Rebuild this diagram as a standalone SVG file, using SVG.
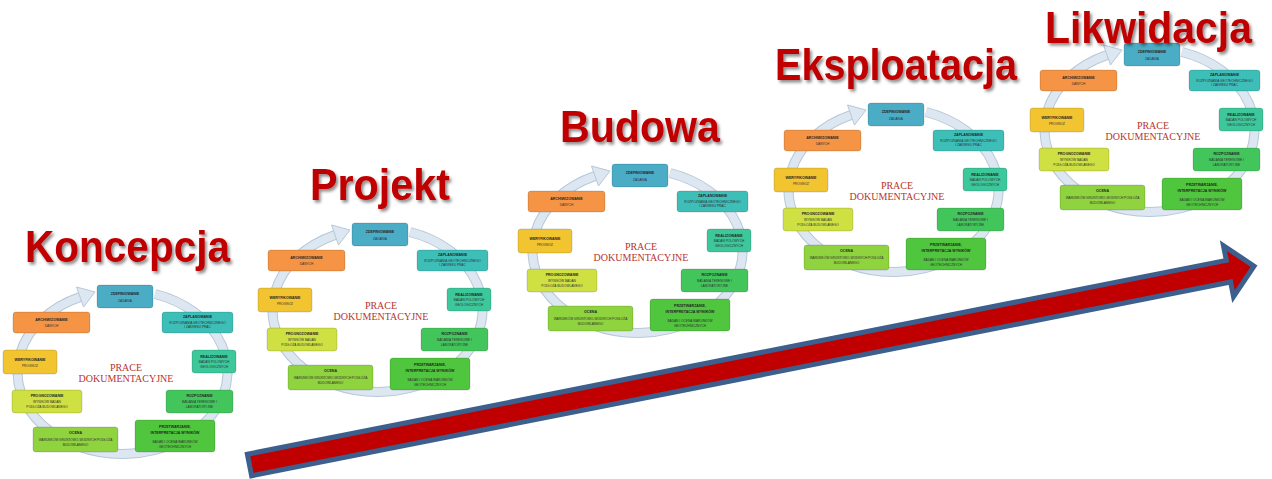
<svg xmlns="http://www.w3.org/2000/svg" xmlns:xlink="http://www.w3.org/1999/xlink" width="1272" height="479" viewBox="0 0 1272 479">
<style>
.title{font-family:"Liberation Sans",Arial,sans-serif;font-weight:bold;font-size:44px;fill:#c00000;filter:url(#shadow)}
.ring-o{fill:none;stroke:#b7c8d8;stroke-width:10}
.ring-i{fill:none;stroke:#dde7f1;stroke-width:8}
.head{fill:#dde7f1;stroke:#b7c8d8;stroke-width:1}
.box{stroke:#000;stroke-opacity:.18;stroke-width:.8}
.h{font-family:"Liberation Sans",Arial,sans-serif;font-weight:bold;font-size:3.6px;fill:#262626;text-anchor:middle}
.t{font-family:"Liberation Sans",Arial,sans-serif;font-size:3.2px;fill:#303030;text-anchor:middle}
.c{font-family:"Liberation Serif","Times New Roman",serif;font-size:10px;fill:#b8342f;text-anchor:middle}
.arrow{fill:#c00000;stroke:#3c5f8d;stroke-width:5;stroke-linejoin:miter}
</style>
<defs>
<filter id="shadow" x="-10%" y="-20%" width="130%" height="150%">
<feDropShadow dx="2" dy="2.5" stdDeviation="1.6" flood-color="#000" flood-opacity="0.45"/>
</filter>
<g id="cycle">
<path class="ring-o" d="M155,294 A105,82 0 1 1 80,297"/>
<path class="ring-i" d="M155,294 A105,82 0 1 1 80,297"/>
<polygon class="head" points="83.5,307 76.5,287 95,292"/>
<g id="step-1"><rect class="box" x="97" y="285" width="56" height="23" rx="3" fill="#4bacc6"/>
<text class="h" x="125" y="294.5">ZDEFINIOWANIE</text><text class="t" x="125" y="301.5">ZADANIA</text></g>
<g id="step-2"><rect class="box" x="162" y="312" width="71" height="21" rx="3" fill="#3dbfb8"/>
<text class="h" x="197.5" y="317.5">ZAPLANOWANIE</text><text class="t" x="197.5" y="323.5">ROZPOZNANIA GEOTECHNICZNEGO</text><text class="t" x="197.5" y="328">I ZAKRESU PRAC</text></g>
<g id="step-3"><rect class="box" x="192" y="350" width="44" height="23" rx="3" fill="#3cc89a"/>
<text class="h" x="214" y="357.5">REALIZOWANIE</text><text class="t" x="214" y="363">BADAŃ POLOWYCH</text><text class="t" x="214" y="367.5">GEOLOGICZNYCH</text></g>
<g id="step-4"><rect class="box" x="166" y="390" width="67" height="23" rx="3" fill="#42c65c"/>
<text class="h" x="199.5" y="396.5">ROZPOZNANIE</text><text class="t" x="199.5" y="403">BADANIA TERENOWE I</text><text class="t" x="199.5" y="407.5">LABORATORYJNE</text></g>
<g id="step-5"><rect class="box" x="135" y="420" width="80" height="32" rx="3" fill="#50c53e"/>
<text class="h" x="175" y="428">PRZETWARZANIE,</text><text class="h" x="175" y="434">INTERPRETACJA WYNIKÓW</text><text class="t" x="175" y="443">BADAŃ I OCENA WARUNKÓW</text><text class="t" x="175" y="448">GEOTECHNICZNYCH</text></g>
<g id="step-6"><rect class="box" x="33" y="427" width="85" height="25" rx="3" fill="#8fd33e"/>
<text class="h" x="75.5" y="434">OCENA</text><text class="t" x="75.5" y="440.5">WARUNKÓW GRUNTOWO-WODNYCH PODŁOŻA</text><text class="t" x="75.5" y="445.5">BUDOWLANEGO</text></g>
<g id="step-7"><rect class="box" x="12" y="390" width="70" height="23" rx="3" fill="#cfe042"/>
<text class="h" x="47" y="396.5">PROGNOZOWANIE</text><text class="t" x="47" y="403">WYNIKÓW BADAŃ</text><text class="t" x="47" y="407.5">PODŁOŻA BUDOWLANEGO</text></g>
<g id="step-8"><rect class="box" x="3" y="350" width="54" height="24" rx="3" fill="#f2c530"/>
<text class="h" x="30" y="360.5">WERYFIKOWANIE</text><text class="t" x="30" y="366.5">PROGNOZ</text></g>
<g id="step-9"><rect class="box" x="13" y="312" width="77" height="21" rx="3" fill="#f59444"/>
<text class="h" x="51.5" y="320.5">ARCHIWIZOWANIE</text><text class="t" x="51.5" y="326.5">DANYCH</text></g>
<text class="c" x="126" y="371">PRACE</text>
<text class="c" x="126" y="382">DOKUMENTACYJNE</text>
</g>
</defs>
<rect width="1272" height="479" fill="#ffffff"/>
<g id="stage-koncepcja">
<use xlink:href="#cycle" href="#cycle"/>
<text class="title" x="25" y="262" textLength="205" lengthAdjust="spacingAndGlyphs">Koncepcja</text>
</g>
<g id="stage-projekt">
<use xlink:href="#cycle" href="#cycle" transform="translate(255,-62)"/>
<text class="title" x="310" y="200" textLength="140" lengthAdjust="spacingAndGlyphs">Projekt</text>
</g>
<g id="stage-budowa">
<use xlink:href="#cycle" href="#cycle" transform="translate(515,-121)"/>
<text class="title" x="560" y="142" textLength="160" lengthAdjust="spacingAndGlyphs">Budowa</text>
</g>
<g id="stage-eksploatacja">
<use xlink:href="#cycle" href="#cycle" transform="translate(771,-182)"/>
<text class="title" x="775" y="80" textLength="242" lengthAdjust="spacingAndGlyphs">Eksploatacja</text>
</g>
<g id="stage-likwidacja">
<use xlink:href="#cycle" href="#cycle" transform="translate(1027,-242)"/>
<text class="title" x="1045" y="43" textLength="207" lengthAdjust="spacingAndGlyphs">Likwidacja</text>
</g>
<g id="connectors">
<path class="arrow" transform="translate(249.5,465) rotate(-11.2)" d="M0,-11 H998 V-26 L1024,0 L998,26 V11 H0 Z"/>
</g>
</svg>
